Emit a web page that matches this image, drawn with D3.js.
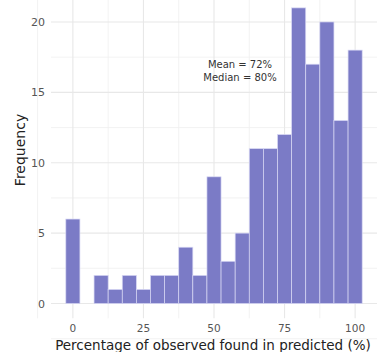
<!DOCTYPE html>
<html>
<head>
<meta charset="utf-8">
<script src="https://cdn.jsdelivr.net/npm/d3@7"></script>
<style>
  body { margin: 0; background: #fff; }
  svg { display: block; font-family: "DejaVu Sans", sans-serif; }
</style>
</head>
<body>
<div class="chart"></div>
<script>
// bin centres (binwidth 5) and counts
var binCenters = [0, 5, 10, 15, 20, 25, 30, 35, 40, 45, 50, 55, 60, 65, 70, 75, 80, 85, 90, 95, 100];
var counts = [6, 0, 2, 1, 2, 1, 2, 2, 4, 2, 9, 3, 5, 11, 11, 12, 21, 17, 20, 13, 18];
var xTicks = [0, 25, 50, 75, 100];
var yTicks = [0, 5, 10, 15, 20];
var binWidth = 5;
var annotation = ["Mean = 72%", "Median = 80%"];

var svgWidth = 385, svgHeight = 352;

var svg = d3.select(".chart")
  .append("svg")
  .attr("width", svgWidth)
  .attr("height", svgHeight);

// ggplot-style 5% expansion
var xLinearScale = d3.scaleLinear()
  .domain([-7.75, 107.75])
  .range([51, 377]);

var yLinearScale = d3.scaleLinear()
  .domain([-1.05, 22.05])
  .range([318.3, -6.9]);

var grid = svg.append("g");

// minor grid
var xMinor = d3.range(-12.5, 110, 25);
var yMinor = d3.range(-2.5, 23, 5);
grid.selectAll(".xminor").data(xMinor).enter().append("line")
  .attr("x1", d => xLinearScale(d)).attr("x2", d => xLinearScale(d))
  .attr("y1", 318.3).attr("y2", 0)
  .attr("stroke", "#efefef").attr("stroke-width", 0.8);
grid.selectAll(".yminor").data(yMinor).enter().append("line")
  .attr("x1", 51).attr("x2", 377)
  .attr("y1", d => yLinearScale(d)).attr("y2", d => yLinearScale(d))
  .attr("stroke", "#efefef").attr("stroke-width", 0.8);

// major grid
grid.selectAll(".xmajor").data(xTicks).enter().append("line")
  .attr("x1", d => xLinearScale(d)).attr("x2", d => xLinearScale(d))
  .attr("y1", 318.3).attr("y2", 0)
  .attr("stroke", "#e8e8e8").attr("stroke-width", 1.1);
grid.selectAll(".ymajor").data(yTicks).enter().append("line")
  .attr("x1", 51).attr("x2", 377)
  .attr("y1", d => yLinearScale(d)).attr("y2", d => yLinearScale(d))
  .attr("stroke", "#e8e8e8").attr("stroke-width", 1.1);

// bars
svg.append("g").selectAll("rect")
  .data(binCenters)
  .enter()
  .append("rect")
  .attr("x", d => xLinearScale(d - binWidth / 2))
  .attr("width", d => xLinearScale(binWidth) - xLinearScale(0))
  .attr("y", (d, i) => yLinearScale(counts[i]))
  .attr("height", (d, i) => yLinearScale(0) - yLinearScale(counts[i]))
  .attr("fill", "#7b7bc6")
  .attr("stroke", "#d8d8f4")
  .attr("stroke-width", 0.7);

// axes labels
svg.append("g").selectAll("text")
  .data(xTicks)
  .enter()
  .append("text")
  .attr("x", d => xLinearScale(d))
  .attr("y", 332)
  .attr("text-anchor", "middle")
  .attr("font-size", "10.5px")
  .attr("fill", "#555")
  .text(d => d);

svg.append("g").selectAll("text")
  .data(yTicks)
  .enter()
  .append("text")
  .attr("x", 45)
  .attr("y", d => yLinearScale(d) + 4)
  .attr("text-anchor", "end")
  .attr("font-size", "11px")
  .attr("fill", "#555")
  .text(d => d);

svg.append("text")
  .attr("x", 213)
  .attr("y", 349.5)
  .attr("text-anchor", "middle")
  .attr("font-size", "13.5px")
  .attr("fill", "#222")
  .text("Percentage of observed found in predicted (%)");

svg.append("text")
  .attr("transform", `translate(25, 150) rotate(270)`)
  .attr("text-anchor", "middle")
  .attr("font-size", "14px")
  .attr("fill", "#222")
  .text("Frequency");

// mean / median annotation
svg.append("g").selectAll("text")
  .data(annotation)
  .enter()
  .append("text")
  .attr("x", 240)
  .attr("y", (d, i) => 68 + i * 13)
  .attr("text-anchor", "middle")
  .attr("font-size", "10px")
  .attr("fill", "#333")
  .text(d => d);
</script>
</body>
</html>
